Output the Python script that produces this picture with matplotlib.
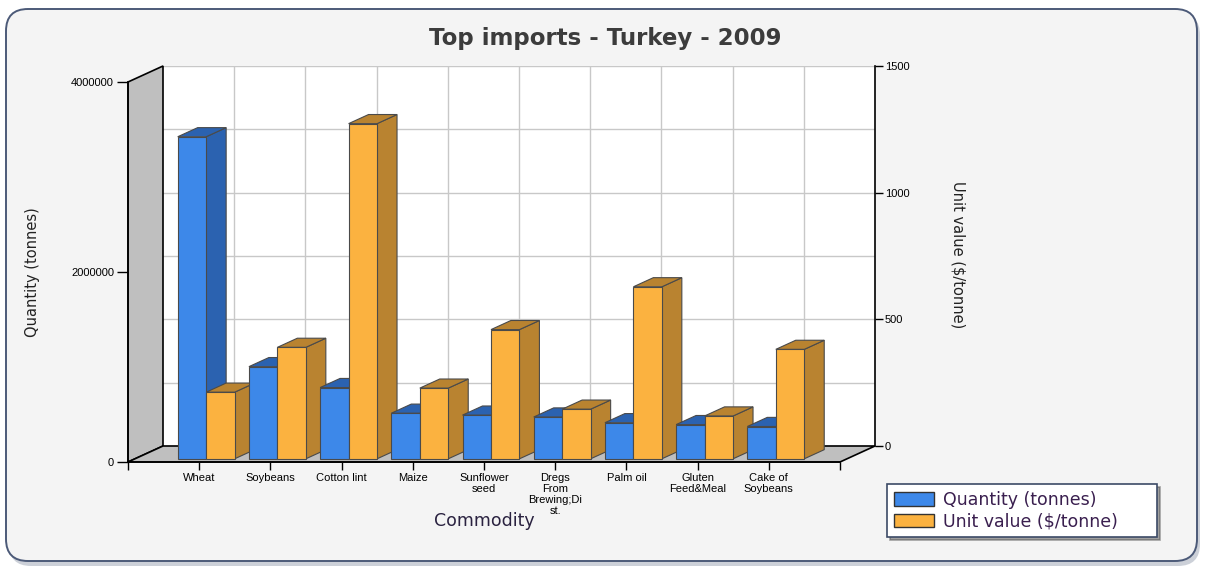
import numpy as np
import matplotlib
matplotlib.use("Agg")
import matplotlib.pyplot as plt
from matplotlib.patches import Polygon, FancyBboxPatch, Patch
from matplotlib.transforms import IdentityTransform, ScaledTranslation

# data
commodities = ["Wheat", "Soybeans", "Cotton lint", "Maize", "Sunflower\nseed",
               "Dregs\nFrom\nBrewing;Di\nst.", "Palm oil", "Gluten\nFeed&Meal",
               "Cake of\nSoybeans"]
quantity = [3390000, 970000, 750000, 480000, 460000, 440000, 380000, 360000, 340000]
unit_value = [263, 440, 1323, 279, 510, 196, 679, 169, 432]

W, H = 1210, 570
DX, DY = 35, 16          # depth of the fake 3d box, pixels
F0, F1 = 0.2, 0.77       # bar front / back depth fraction
BW = 0.40                # bar width in category units

blue, blue_dk = "#3d88e9", "#2b62b0"
orange, orange_dk = "#fbb240", "#b98330"
wall = "#bfbfbf"

fig = plt.figure(figsize=(W / 100, H / 100), dpi=100)
fig.patch.set_facecolor("white")

# rounded panel with shadow
px = IdentityTransform()
fig.patches.append(FancyBboxPatch((9, 4), 1191, 553, boxstyle="round,pad=0,rounding_size=22",
                                  transform=px, fc="#9aa3b3", ec="none", alpha=0.5, zorder=-2))
fig.patches.append(FancyBboxPatch((6, 9), 1191, 552, boxstyle="round,pad=0,rounding_size=22",
                                  transform=px, fc="#f4f4f4", ec="#4c5a78", lw=1.4, zorder=-1))

# back plane (right axis) and front plane (left axis)
ax2 = fig.add_axes([(128 + DX) / W, (108 + DY) / H, 712 / W, 380 / H])
ax = fig.add_axes([128 / W, 108 / H, 712 / W, 380 / H])
ax.patch.set_visible(False)

ax2.set_xlim(0, 10)
ax2.set_ylim(0, 1500)
ax2.set_facecolor("white")
for s in ["left", "top", "bottom"]:
    ax2.spines[s].set_visible(False)
ax2.spines["right"].set_color("black")
ax2.spines["right"].set_linewidth(1.2)
ax2.yaxis.tick_right()
ax2.set_yticks([0, 500, 1000, 1500])
ax2.set_yticks(np.arange(0, 1501, 250), minor=True)
ax2.tick_params(axis="y", which="major", length=6, width=1, labelsize=8, pad=1)
ax2.tick_params(axis="y", which="minor", length=0)
ax2.set_xticks(range(1, 10))
ax2.tick_params(axis="x", length=0, labelbottom=False)
ax2.grid(True, which="both", color="#c8c8c8", lw=1)
ax2.set_axisbelow(True)
for lab in ax2.get_yticklabels():
    lab.set_fontfamily("Liberation Sans")

ax.set_xlim(0, 10)
ax.set_ylim(0, 4000000)
ax.spines["top"].set_visible(False)
ax.spines["right"].set_visible(False)
ax.spines["left"].set_linewidth(1.2)
ax.spines["bottom"].set_linewidth(1.2)
ax.spines["left"].set_zorder(30)
ax.spines["bottom"].set_zorder(30)
ax.set_yticks([0, 2000000, 4000000])
ax.set_yticklabels(["0", "2000000", "4000000"], fontsize=8, fontfamily="Liberation Sans")
ax.set_xticks(range(0, 11))
ax.set_xticklabels([""] + commodities + [""], fontsize=8, fontfamily="Liberation Sans",
                   linespacing=1.1)
ax.tick_params(axis="y", length=8, width=1, pad=2)
ax.tick_params(axis="x", length=6, width=1, pad=2)


def to_px(axis, pts, base):
    out = []
    for x, y, d in pts:
        p = axis.transData.transform((x, y))
        out.append((p[0] + (d - base) * DX, p[1] + (d - base) * DY))
    return out


def poly(axis, pts, base, fc, ec="none", lw=0.0, z=1):
    ax.add_patch(Polygon(to_px(axis, pts, base), closed=True, transform=px, fc=fc,
                         ec=ec, lw=lw, zorder=z, clip_on=False))


# left wall and floor
poly(ax, [(0, 0, 0), (0, 4000000, 0), (0, 4000000, 1), (0, 0, 1)], 0, wall, "black", 1.2, 0.5)
poly(ax, [(0, 0, 0), (10, 0, 0), (10, 0, 1), (0, 0, 1)], 0, wall, "black", 1.2, 0.5)


def bar3d(axis, base, x0, h, fc, dk, z):
    shift = ScaledTranslation((F0 - base) * DX / 100, (F0 - base) * DY / 100, fig.dpi_scale_trans)
    ax.bar([x0], [h], width=BW, align="edge", color=fc, edgecolor="#4a4a4a", lw=0.8,
           transform=axis.transData + shift, zorder=z + 0.2, clip_on=False)
    x1 = x0 + BW
    poly(axis, [(x1, 0, F0), (x1, h, F0), (x1, h, F1), (x1, 0, F1)], base, dk, "#4a4a4a", 0.8, z)
    poly(axis, [(x0, h, F0), (x1, h, F0), (x1, h, F1), (x0, h, F1)], base, dk, "#4a4a4a", 0.8, z)


for i, (q, u) in enumerate(zip(quantity, unit_value)):
    c = i + 1
    bar3d(ax, 0, c - BW, q, blue, blue_dk, 2 + i * 2)
    bar3d(ax2, 1, c, u, orange, orange_dk, 3 + i * 2)

# texts
fig.text(605 / W, 1 - 38 / H, "Top imports - Turkey - 2009", ha="center", va="center",
         fontsize=16.5, fontweight="bold", color="#3c3c3c")
fig.text(32 / W, 1 - 272 / H, "Quantity (tonnes)", rotation=90, ha="center", va="center",
         fontsize=10.5, color="#222222")
fig.text(958 / W, 1 - 255 / H, "Unit value ($/tonne)", rotation=270, ha="center", va="center",
         fontsize=10.5, color="#222222")
fig.text(484 / W, 1 - 521 / H, "Commodity", ha="center", va="center",
         fontsize=12.5, color="#2a2240")

handles = [Patch(fc=blue, ec="#333333", lw=1), Patch(fc=orange, ec="#333333", lw=1)]
leg = fig.legend(handles, ["Quantity (tonnes)", "Unit value ($/tonne)"], loc="upper left",
                 bbox_to_anchor=(887 / W, 1 - 540 / H, 270 / W, 56 / H), mode="expand",
                 fontsize=12.5, frameon=True,
                 fancybox=False, shadow=True, handlelength=2.3, handleheight=0.8,
                 handletextpad=0.5, labelspacing=0.2, borderpad=0.4, borderaxespad=0)
leg.get_frame().set_edgecolor("#3c4a66")
leg.get_frame().set_linewidth(1.2)
for t in leg.get_texts():
    t.set_color("#3a1f4f")

fig.savefig("out.png", dpi=100)
